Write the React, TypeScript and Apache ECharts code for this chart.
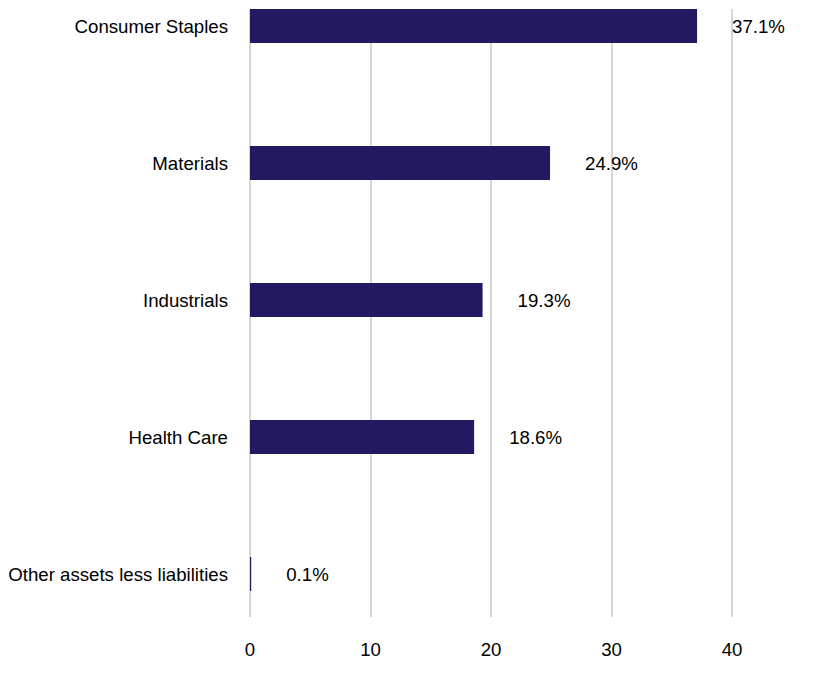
import { useEffect, useRef } from 'react';
import * as echarts from 'echarts';

const categories = [
  'Consumer Staples',
  'Materials',
  'Industrials',
  'Health Care',
  'Other assets less liabilities'
];
const weights = [37.1, 24.9, 19.3, 18.6, 0.1];

const FONT = 'Liberation Sans, Arial, sans-serif';
const FONT_SIZE = 18.67;
// the bar bands start above the visible page, so the canvas is shifted up by this much
const SHIFT = 43;

export default function App() {
  const chartRef = useRef<HTMLDivElement>(null);

  useEffect(() => {
    if (!chartRef.current) return;
    const chart = echarts.init(chartRef.current, undefined, { renderer: 'svg' });

    const option: echarts.EChartsOption = {
      animation: false,
      // grid 0 carries the vertical gridlines and the x labels, grid 1 carries the bars
      grid: [
        { left: 250, right: 84, top: 9 + SHIFT, height: 608 },
        { left: 250, right: 84, top: 0.5, height: 685 }
      ],
      xAxis: [
        {
          gridIndex: 0,
          type: 'value',
          min: 0,
          max: 40,
          interval: 10,
          axisLine: { show: false },
          axisTick: { show: false },
          axisLabel: { color: '#000', fontSize: FONT_SIZE, fontFamily: FONT, margin: 23 },
          splitLine: { show: true, lineStyle: { color: '#c8c8c8', width: 1.5 } }
        },
        {
          gridIndex: 1,
          type: 'value',
          min: 0,
          max: 40,
          show: false
        }
      ],
      yAxis: [
        {
          gridIndex: 0,
          type: 'value',
          show: false
        },
        {
          gridIndex: 1,
          type: 'category',
          data: categories,
          inverse: true,
          axisLine: { show: false },
          axisTick: { show: false },
          splitLine: { show: false },
          axisLabel: { color: '#000', fontSize: FONT_SIZE, fontFamily: FONT, margin: 22 }
        }
      ],
      series: [
        {
          type: 'bar',
          xAxisIndex: 1,
          yAxisIndex: 1,
          data: weights,
          barWidth: 34,
          itemStyle: { color: '#211a61' },
          label: {
            show: true,
            position: 'right',
            distance: 35,
            color: '#000',
            fontSize: FONT_SIZE,
            fontFamily: FONT,
            formatter: (p: any) => `${Number(p.value).toFixed(1)}%`
          }
        }
      ]
    };

    chart.setOption(option);
    return () => chart.dispose();
  }, []);

  return (
    <div
      ref={chartRef}
      style={{ position: 'absolute', left: 0, top: -SHIFT, width: 816, height: 682 + SHIFT }}
    />
  );
}
